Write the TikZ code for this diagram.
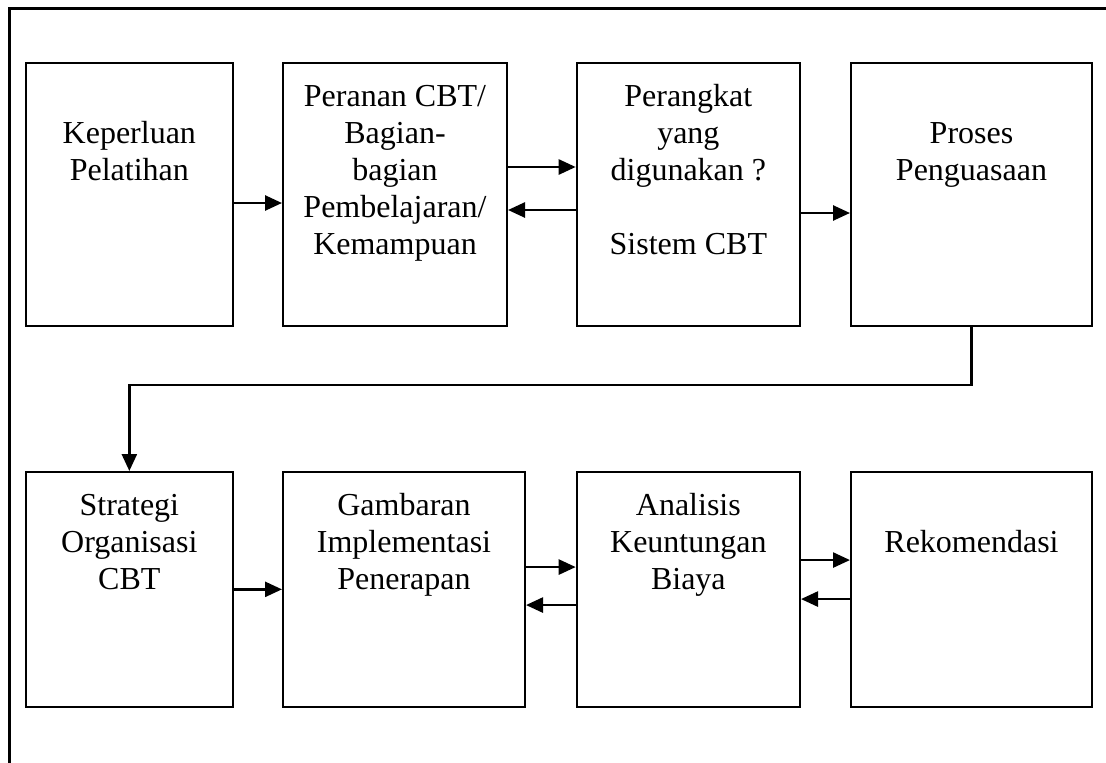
\documentclass[tikz,border=0pt]{standalone}
\usepackage{fontspec}
\setmainfont{Liberation Serif}
\usetikzlibrary{arrows.meta}
\begin{document}
\begin{tikzpicture}[x=1pt,y=-1pt,
  box/.style={draw,line width=2pt,rectangle,inner sep=0pt},
  toprow/.style={box,minimum height=263pt},
  botrow/.style={box,minimum height=234.7pt},
  txt/.style={align=center,inner sep=0pt,anchor=north,font=\fontsize{32}{37}\selectfont},
  arr/.style={line width=2.6pt,-{Triangle[length=17pt,width=15pt]}},
  frameline/.style={line width=3pt}]
\useasboundingbox (0,0) rectangle (1106,763);
% frame
\coordinate (fa) at (9,763);
\coordinate (fb) at (9,8);
\coordinate (fc) at (1106,8);
\draw[frameline] (fa) -- (fb) -- (fc);
% top row
\node[toprow,minimum width=206.7pt] (b1) at (129.35,194.5) {};
\node[toprow,minimum width=224pt] (b2) at (395,194.5) {};
\node[toprow,minimum width=223.3pt] (b3) at (688.35,194.5) {};
\node[toprow,minimum width=241pt] (b4) at (971.5,194.5) {};
% bottom row
\node[botrow,minimum width=206.7pt] (b5) at (129.35,589.35) {};
\node[botrow,minimum width=242pt] (b6) at (404,589.35) {};
\node[botrow,minimum width=223.3pt] (b7) at (688.35,589.35) {};
\node[botrow,minimum width=241pt] (b8) at (971.5,589.35) {};
% texts
\node[txt] (t1) at ([yshift=-18pt]b1.north) {\strut\\\strut Keperluan\\\strut Pelatihan};
\node[txt] (t2) at ([yshift=-18pt]b2.north) {\strut Peranan CBT/\\\strut Bagian-\\\strut bagian\\\strut Pembelajaran/\\\strut Kemampuan};
\node[txt] (t3) at ([yshift=-18pt]b3.north) {\strut Perangkat\\\strut yang\\\strut digunakan ?\\\strut\\\strut Sistem CBT};
\node[txt] (t4) at ([yshift=-18pt]b4.north) {\strut\\\strut Proses\\\strut Penguasaan};
\node[txt] (t5) at ([yshift=-18pt]b5.north) {\strut Strategi\\\strut Organisasi\\\strut CBT};
\node[txt] (t6) at ([yshift=-18pt]b6.north) {\strut Gambaran\\\strut Implementasi\\\strut Penerapan};
\node[txt] (t7) at ([yshift=-18pt]b7.north) {\strut Analisis\\\strut Keuntungan\\\strut Biaya};
\node[txt] (t8) at ([yshift=-18pt]b8.north) {\strut\\\strut Rekomendasi};
% top row arrows
\draw[arr] ([yshift=-8.5pt]b1.east) -- ([yshift=-8.5pt]b2.west);
\draw[arr] ([yshift=27.5pt]b2.east) -- ([yshift=27.5pt]b3.west);
\draw[arr] ([yshift=-15.5pt]b3.west) -- ([yshift=-15.5pt]b2.east);
\draw[arr] ([yshift=-18.5pt]b3.east) -- ([yshift=-18.5pt]b4.west);
% connector
\coordinate (c1) at (971.5,385);
\coordinate (c2) at (129.35,385);
\draw[arr] (b4.south) -- (c1) -- (c2) -- (b5.north);
% bottom row arrows
\draw[arr] (b5.east) -- (b6.west);
\draw[arr] ([yshift=22.3pt]b6.east) -- ([yshift=22.3pt]b7.west);
\draw[arr] ([yshift=-15.7pt]b7.west) -- ([yshift=-15.7pt]b6.east);
\draw[arr] ([yshift=29.3pt]b7.east) -- ([yshift=29.3pt]b8.west);
\draw[arr] ([yshift=-9.7pt]b8.west) -- ([yshift=-9.7pt]b7.east);
\end{tikzpicture}
\end{document}
